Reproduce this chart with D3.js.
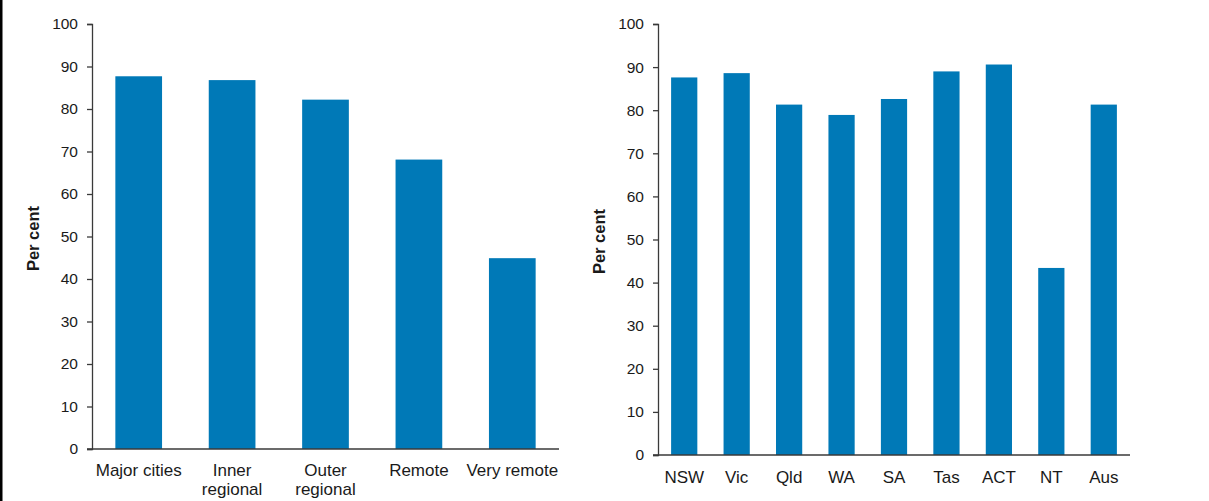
<!DOCTYPE html>
<html>
<head>
<meta charset="utf-8">
<script src="https://cdn.jsdelivr.net/npm/d3@7"></script>
<style>
  html, body { margin: 0; padding: 0; background: #fff; }
  svg text { font-family: "Liberation Sans", Arial, sans-serif; fill: #1a1a1a; }
</style>
</head>
<body>
<svg id="chart" width="1209" height="501"></svg>
<script>
// Data
const remotenessCategories = ["Major cities", "Inner regional", "Outer regional", "Remote", "Very remote"];
const remotenessValues = [87.7, 86.8, 82.2, 68.1, 44.9];
const stateCategories = ["NSW", "Vic", "Qld", "WA", "SA", "Tas", "ACT", "NT", "Aus"];
const stateValues = [87.6, 88.6, 81.3, 78.9, 82.6, 89.0, 90.6, 43.4, 81.3];
const yTicks = [0, 10, 20, 30, 40, 50, 60, 70, 80, 90, 100];
const yTitle = "Per cent";

const svg = d3.select("#chart");
const barColor = "#0079b7";
const axisColor = "#3a3a3a";

// left border line
svg.append("rect").attr("x", 0).attr("y", 0).attr("width", 2.5).attr("height", 501).attr("fill", "#000");

function drawPanel(cfg) {
  const g = svg.append("g");
  const x = d3.scaleBand().domain(cfg.cats).range([cfg.x0, cfg.x1]).paddingInner(0.5).paddingOuter(0.25);
  const y = d3.scaleLinear().domain([0, 100]).range([cfg.y0, cfg.y1]);

  g.selectAll("rect.bar").data(cfg.cats).enter().append("rect")
    .attr("class", "bar")
    .attr("x", d => x(d))
    .attr("width", x.bandwidth())
    .attr("y", (d, i) => y(cfg.vals[i]))
    .attr("height", (d, i) => y(0) - y(cfg.vals[i]))
    .attr("fill", barColor);

  // y axis
  const ya = g.append("g").attr("transform", `translate(${cfg.x0},0)`)
    .call(d3.axisLeft(y).tickValues(yTicks).tickSize(5).tickPadding(9).tickFormat(d3.format("d")));
  ya.select(".domain").attr("stroke", axisColor).attr("stroke-width", 1.3);
  ya.selectAll(".tick line").attr("stroke", axisColor).attr("stroke-width", 1.3);
  ya.selectAll(".tick text").style("font-size", "15.5px").style("font-family", "Liberation Sans, Arial, sans-serif").attr("fill", "#1a1a1a");

  // x axis
  const xa = g.append("g").attr("transform", `translate(0,${cfg.y0})`)
    .call(d3.axisBottom(x).tickSize(0).tickPadding(0));
  xa.select(".domain").attr("stroke", axisColor).attr("stroke-width", 1.3)
    .attr("d", `M${cfg.x0 - 5},0H${cfg.x1}`);
  xa.selectAll(".tick text").remove();
  xa.selectAll(".tick").each(function(d) {
    const words = cfg.wrap ? (d.indexOf(" ") > 0 && d !== "Major cities" && d !== "Very remote" ? d.split(" ") : [d]) : [d];
    const t = d3.select(this).append("text")
      .attr("text-anchor", "middle")
      .style("font-size", "17px")
      .attr("fill", "#1a1a1a");
    words.forEach((w, i) => {
      t.append("tspan").attr("x", 0).attr("y", cfg.labelDy + i * 19).text(w);
    });
  });

  // y title
  g.append("text")
    .attr("transform", `translate(${cfg.titleX},${(cfg.y0 + cfg.y1) / 2 + 2}) rotate(-90)`)
    .attr("text-anchor", "middle")
    .attr("dy", "0.35em")
    .style("font-size", "16.5px")
    .style("font-weight", "bold")
    .text(yTitle);
}

drawPanel({ cats: remotenessCategories, vals: remotenessValues, x0: 92, x1: 559, y0: 449, y1: 24, wrap: true, labelDy: 27, titleX: 33 });
drawPanel({ cats: stateCategories, vals: stateValues, x0: 658, x1: 1130, y0: 455, y1: 24, wrap: false, labelDy: 28, titleX: 599 });
</script>
</body>
</html>
